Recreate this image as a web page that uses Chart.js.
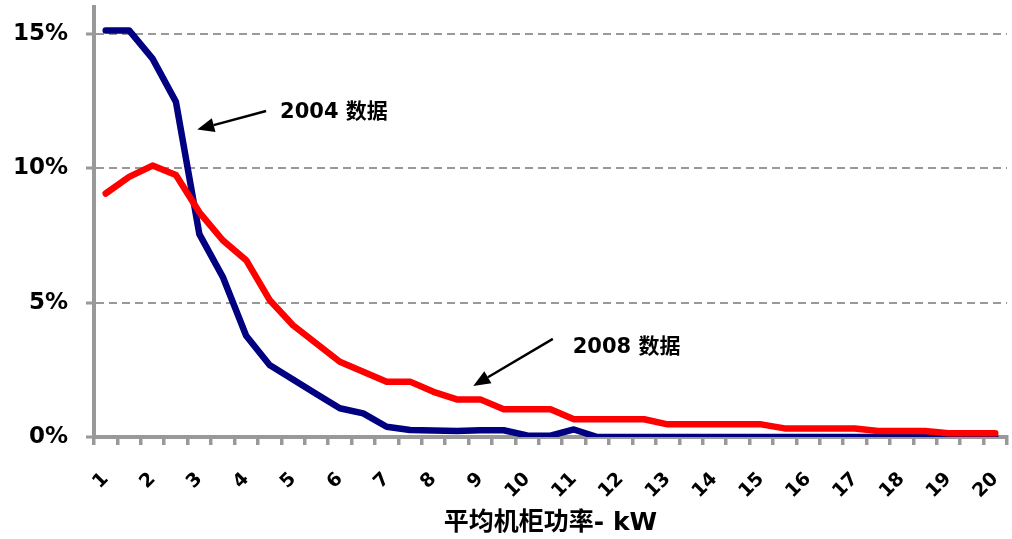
<!DOCTYPE html>
<html>
<head>
<meta charset="utf-8">
<script src="https://cdn.jsdelivr.net/npm/chart.js@4/dist/chart.umd.min.js"></script>
<style>
  html, body { margin: 0; padding: 0; background: #ffffff; }
  #wrap { width: 1012px; height: 539px; position: relative; }
</style>
</head>
<body>
<div id="wrap"><canvas id="rackChart"></canvas></div>
<script>
// Average rack power (kW), in half-kW steps
const powerKw = ['1','1.5','2','2.5','3','3.5','4','4.5','5','5.5','6','6.5','7','7.5','8','8.5','9','9.5','10','10.5',
                 '11','11.5','12','12.5','13','13.5','14','14.5','15','15.5','16','16.5','17','17.5','18','18.5','19','19.5','20'];

// Share of racks (%) at each power level, 2004 survey
const share2004 = [15.13, 15.13, 14.08, 12.47, 7.55, 5.96, 3.77, 2.68, 2.14, 1.60, 1.07, 0.88, 0.38, 0.26, 0.24, 0.22, 0.25, 0.25, 0.06, 0.05,
                   0.28, 0, 0, 0, 0, 0, 0, 0, 0, 0, 0, 0, 0, 0, 0, 0, 0, 0, 0];

// Share of racks (%) at each power level, 2008 survey
const share2008 = [9.06, 9.68, 10.10, 9.75, 8.36, 7.32, 6.58, 5.10, 4.16, 3.48, 2.80, 2.43, 2.06, 2.06, 1.68, 1.40, 1.40, 1.03, 1.03, 1.03,
                   0.66, 0.66, 0.66, 0.66, 0.47, 0.47, 0.47, 0.47, 0.47, 0.32, 0.32, 0.32, 0.32, 0.22, 0.22, 0.22, 0.14, 0.14, 0.14];

// Y axis tick values (%)
const shareTicks = [0, 5, 10, 15];

const seriesNames = ['2004 数据', '2008 数据'];
const axisTitle = '平均机柜功率- kW';

const FONT = '"DejaVu Sans", "Noto Sans CJK SC", sans-serif';
const AXIS_GREY = '#999999';

// Callout arrows: [category index, value %] for arrow tail, arrow tip and label start
const callouts = [
  { text: seriesNames[0], tail: [6.85, 12.13], tip: [3.91, 11.44], label: [7.45, 12.09] },
  { text: seriesNames[1], tail: [19.1, 3.65], tip: [15.7, 1.90], label: [19.95, 3.31] }
];

const calloutPlugin = {
  id: 'callouts',
  afterDatasetsDraw(chart) {
    const { ctx, scales: { x, y } } = chart;
    ctx.save();
    callouts.forEach(c => {
      const tx = x.getPixelForValue(c.tail[0]), ty = y.getPixelForValue(c.tail[1]);
      const px = x.getPixelForValue(c.tip[0]), py = y.getPixelForValue(c.tip[1]);
      const ang = Math.atan2(py - ty, px - tx);
      const headLen = 17, headHalf = 7;
      const bx = px - headLen * Math.cos(ang), by = py - headLen * Math.sin(ang);
      ctx.strokeStyle = '#000';
      ctx.lineWidth = 2.5;
      ctx.beginPath();
      ctx.moveTo(tx, ty);
      ctx.lineTo(bx, by);
      ctx.stroke();
      ctx.fillStyle = '#000';
      ctx.beginPath();
      ctx.moveTo(px, py);
      ctx.lineTo(bx + headHalf * Math.sin(ang), by - headHalf * Math.cos(ang));
      ctx.lineTo(bx - headHalf * Math.sin(ang), by + headHalf * Math.cos(ang));
      ctx.closePath();
      ctx.fill();
      ctx.font = 'bold 21px ' + FONT;
      ctx.textAlign = 'left';
      ctx.textBaseline = 'middle';
      ctx.fillText(c.text, x.getPixelForValue(c.label[0]), y.getPixelForValue(c.label[1]));
    });
    ctx.restore();
  }
};

new Chart(document.getElementById('rackChart'), {
  type: 'line',
  data: {
    labels: powerKw,
    datasets: [
      {
        label: seriesNames[0],
        data: share2004,
        borderColor: '#000080',
        borderWidth: 6.5,
        pointRadius: 0,
        tension: 0,
        borderCapStyle: 'round',
        borderJoinStyle: 'round',
        order: 1
      },
      {
        label: seriesNames[1],
        data: share2008,
        borderColor: '#ff0000',
        borderWidth: 6.5,
        pointRadius: 0,
        tension: 0,
        borderCapStyle: 'round',
        borderJoinStyle: 'round',
        order: 0
      }
    ]
  },
  options: {
    responsive: true,
    maintainAspectRatio: false,
    animation: false,
    devicePixelRatio: 1,
    layout: { padding: { top: 7, right: 5, left: 0, bottom: 0 } },
    plugins: {
      legend: { display: false },
      tooltip: { enabled: false }
    },
    scales: {
      x: {
        type: 'category',
        offset: true,
        grid: {
          offset: true,
          drawOnChartArea: false,
          color: AXIS_GREY,
          lineWidth: 3.5,
          tickLength: 8
        },
        border: { color: AXIS_GREY, width: 4 },
        ticks: {
          autoSkip: false,
          minRotation: 45,
          maxRotation: 45,
          padding: 23,
          color: '#000',
          font: { family: FONT, size: 19, weight: 'bold' },
          callback(value) {
            const lab = this.getLabelForValue(value);
            return Number(lab) % 1 === 0 ? lab : '';
          }
        },
        title: {
          display: true,
          text: axisTitle,
          color: '#000',
          font: { family: FONT, size: 25, weight: 'bold' },
          padding: { top: 0, bottom: 1 }
        },
        afterFit(scale) {
          scale.height = 102;
          scale.paddingLeft = 0;
          scale.paddingRight = 0;
        }
      },
      y: {
        min: 0,
        max: 16,
        ticks: {
          stepSize: 5,
          padding: 18,
          color: '#000',
          font: { family: FONT, size: 23, weight: 'bold' },
          callback: v => v + '%'
        },
        afterBuildTicks(scale) {
          scale.ticks = shareTicks.map(v => ({ value: v }));
        },
        grid: {
          color: ctx => (ctx.tick && ctx.tick.value === 0) ? 'rgba(0,0,0,0)' : AXIS_GREY,
          lineWidth: 2,
          tickColor: AXIS_GREY,
          tickWidth: 3,
          tickLength: 8
        },
        border: { color: AXIS_GREY, width: 4, dash: [8, 5] },
        afterFit(scale) {
          scale.width = 94;
          scale.paddingTop = 0;
          scale.paddingBottom = 0;
        }
      }
    }
  },
  plugins: [calloutPlugin]
});
</script>
</body>
</html>
